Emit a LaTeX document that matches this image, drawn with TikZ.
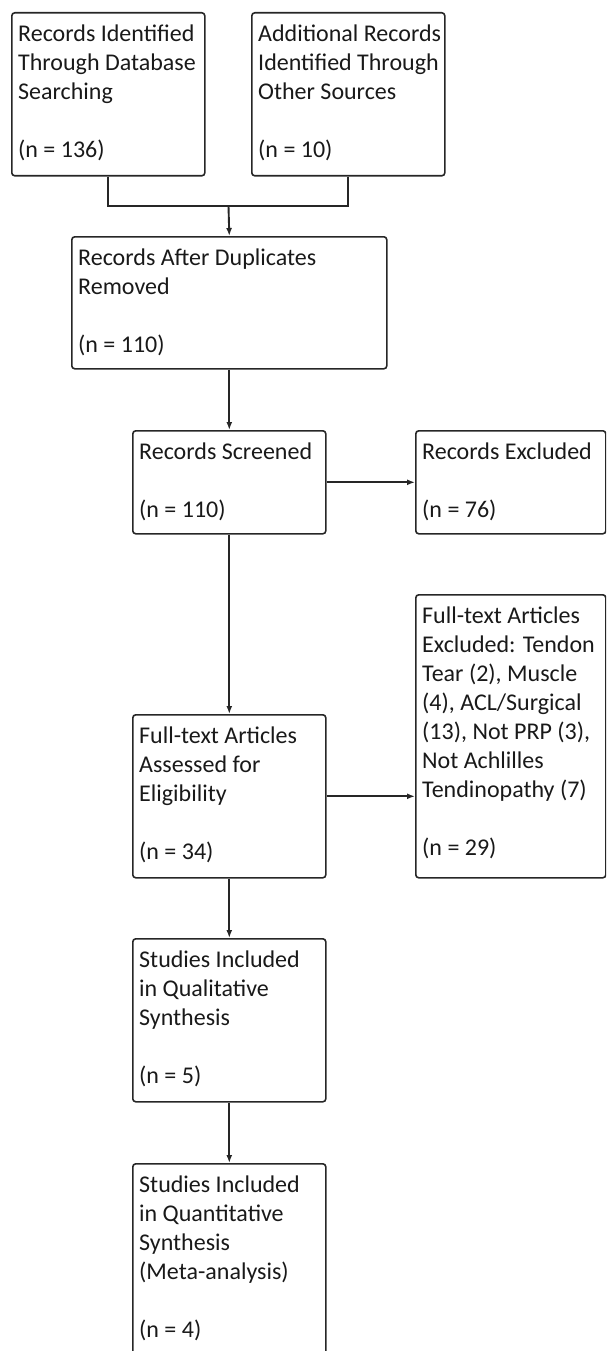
\documentclass[tikz,border=0pt]{standalone}
\usepackage{fontspec}
\setmainfont{Carlito}
\usetikzlibrary{arrows.meta}
\begin{document}
\begin{tikzpicture}[x=1pt,y=-1pt,
  box/.style={draw=black!85, line width=1.6pt, rounded corners=3pt, anchor=north west, inner sep=0pt},
  txt/.style={anchor=north west, inner sep=0pt, align=left, text=black!90,
    font=\fontsize{24}{29}\selectfont, xshift=7pt, yshift=-9pt},
  line/.style={draw=black!85, line width=1.9pt},
  arr/.style={line, -{Latex[length=8pt,width=6pt]}}]
\useasboundingbox (0,0) rectangle (606,1351);
\clip (0,0) rectangle (606,1351);
% boxes
\node[box, minimum width=193, minimum height=163] (a) at (11,12) {};
\node[box, minimum width=193, minimum height=163] (b) at (251,12) {};
\node[box, minimum width=315, minimum height=132] (c) at (71,236) {};
\node[box, minimum width=193, minimum height=103] (d) at (132,430) {};
\node[box, minimum width=190, minimum height=103] (e) at (415,430) {};
\node[box, minimum width=193, minimum height=163] (f) at (132,714) {};
\node[box, minimum width=190, minimum height=283] (g) at (415,594) {};
\node[box, minimum width=193, minimum height=163] (h) at (132,938) {};
\node[box, minimum width=193, minimum height=193] (i) at (132,1163) {};
% texts
\node[txt] (ta) at (a.north west) {\strut Records Identified\\Through Database\\Searching\\[29pt](n = 136)};
\node[txt] (tb) at (b.north west) {\strut Additional Records\\Identified Through\\Other Sources\\[29pt](n = 10)};
\node[txt] (tc) at (c.north west) {\strut Records After Duplicates\\Removed\\[29pt](n = 110)};
\node[txt] (td) at (d.north west) {\strut Records Screened\\[29pt](n = 110)};
\node[txt] (te) at (e.north west) {\strut Records Excluded\\[29pt](n = 76)};
\node[txt] (tf) at (f.north west) {\strut Full-text Articles\\Assessed for\\Eligibility\\[29pt](n = 34)};
\node[txt] (tg) at (g.north west) {\strut Full-text Articles\\Excluded: Tendon\\Tear (2), Muscle\\(4), ACL/Surgical\\(13), Not PRP (3),\\Not Achlilles\\Tendinopathy (7)\\[29pt](n = 29)};
\node[txt] (th) at (h.north west) {\strut Studies Included\\in Qualitative\\Synthesis\\[29pt](n = 5)};
\node[txt] (ti) at (i.north west) {\strut Studies Included\\in Quantitative\\Synthesis\\(Meta-analysis)\\[29pt](n = 4)};
% connectors
\coordinate (m) at (228.5,206);
\draw[line] (a.south) |- (m);
\draw[line] (b.south) |- (m);
\draw[arr] (m) -- (c.north);
\draw[arr] (c.south) -- (d.north);
\draw[arr] (d.east) -- (d.east -| e.west);
\draw[arr] (d.south) -- (f.north);
\draw[arr] (f.east) -- (f.east -| g.west);
\draw[arr] (f.south) -- (h.north);
\draw[arr] (h.south) -- (i.north);
\end{tikzpicture}
\end{document}
